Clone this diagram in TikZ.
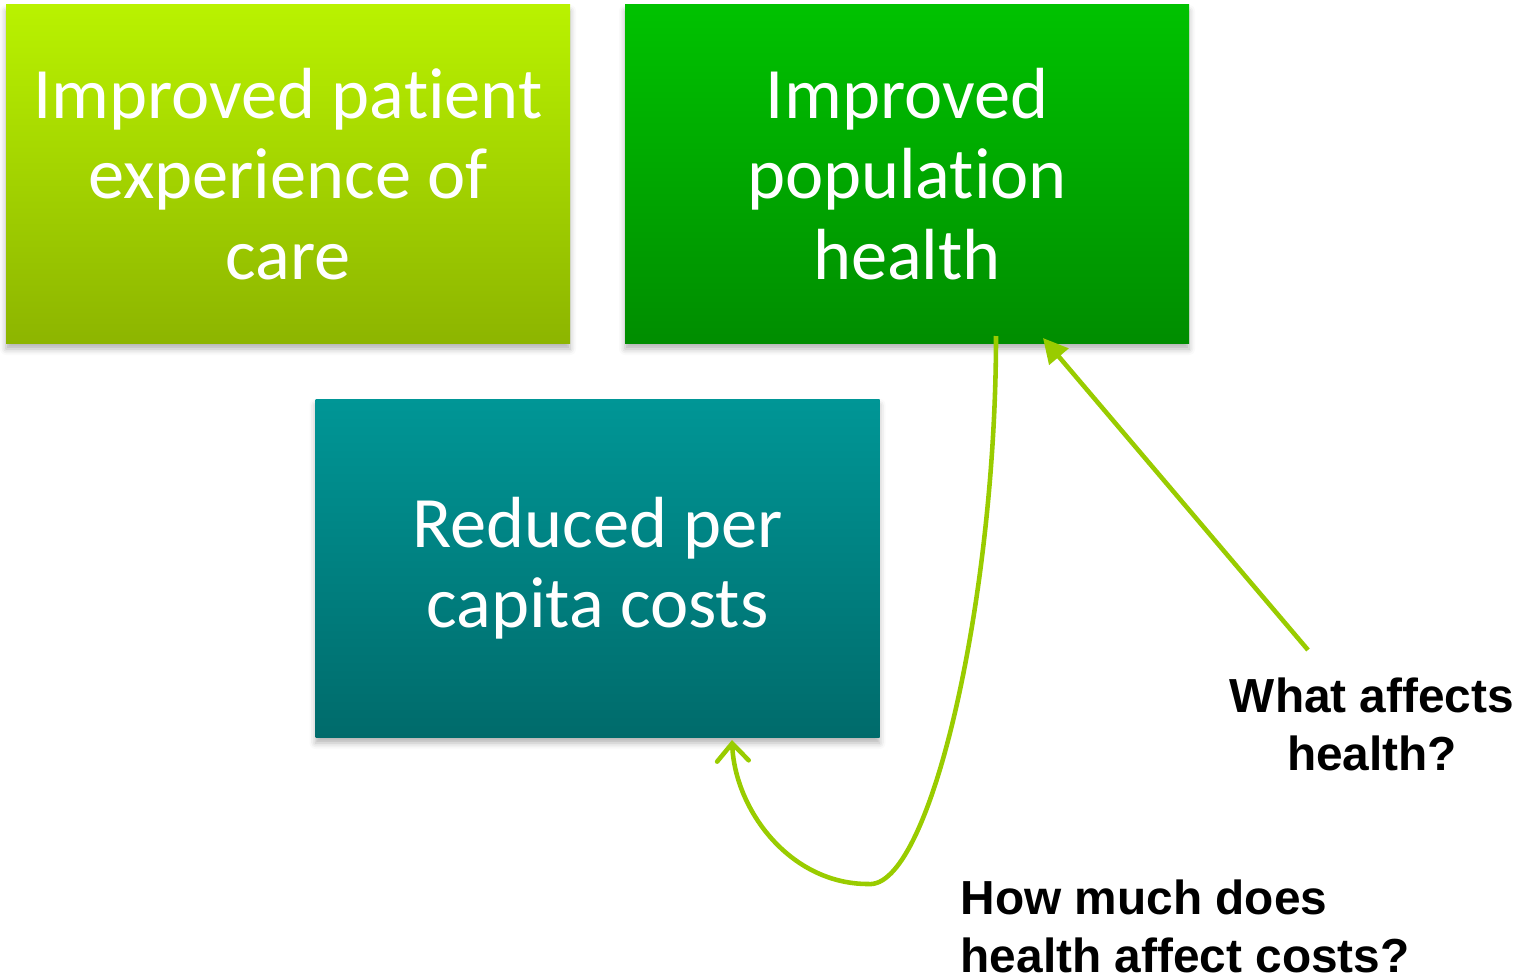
\documentclass[tikz,border=0pt]{standalone}
\usepackage{fontspec}
\setmainfont{Carlito}[Ligatures=NoCommon]
\newfontfamily\qfont{Liberation Sans}
\usepackage{tikz}
\usetikzlibrary{shadows.blur,arrows.meta,calc}
\definecolor{limetop}{HTML}{B9F200}
\definecolor{limebot}{HTML}{8DB500}
\definecolor{greentop}{HTML}{00C200}
\definecolor{greenbot}{HTML}{008D00}
\definecolor{tealtop}{HTML}{009696}
\definecolor{tealbot}{HTML}{006B6B}
\definecolor{arrowgreen}{HTML}{99CC00}

\begin{document}
\begin{tikzpicture}[
  goal/.style={minimum width=5.64cm, minimum height=3.38cm, inner sep=0pt,
    align=center, text=white, font=\fontsize{20.6}{22.8}\selectfont,
    blur shadow={shadow xshift=0pt, shadow yshift=-0.06cm, shadow blur radius=0.06cm,
      shadow opacity=30}},
  question/.style={inner sep=0pt, font=\qfont\bfseries\fontsize{13.6}{16.5}\selectfont},
  link/.style={draw=arrowgreen, line width=1.3pt}]
  \useasboundingbox (0,0) rectangle (15.27,-9.76);
  \node [goal, top color=limetop, bottom color=limebot] (care) at (2.88,-1.74)
    {Improved patient\\experience of\\care};
  \node [goal, top color=greentop, bottom color=greenbot] (pop) at (9.07,-1.74)
    {Improved\\population\\health};
  \node [goal, top color=tealtop, bottom color=tealbot] (cost) at (5.975,-5.68)
    {Reduced per\\capita costs};
  \node [question, align=center, anchor=north] (qhealth) at (13.72,-6.77)
    {What affects\\health?};
  \node [question, align=left, anchor=north west] (qcost) at (9.60,-8.79)
    {How much does\\health affect costs?};

  \coordinate (tail1) at ($(qhealth.north)+(-0.64,0.27)$);
  \coordinate (head1) at (10.43,-3.38);
  \coordinate (tail2) at (9.96,-3.36);
  \coordinate (head2) at (7.32,-7.40);
  \draw [link, -{Triangle[length=7pt,width=7pt]}] (tail1) -- (head1);
  \draw [link, -{Straight Barb[length=5pt,width=9pt,line cap=round]}] (tail2)
    .. controls (9.96,-6.0) and (9.30,-8.90) .. (8.68,-8.84)
    .. controls (7.90,-8.84) and (7.35,-8.10) .. (head2);
\end{tikzpicture}
\end{document}
